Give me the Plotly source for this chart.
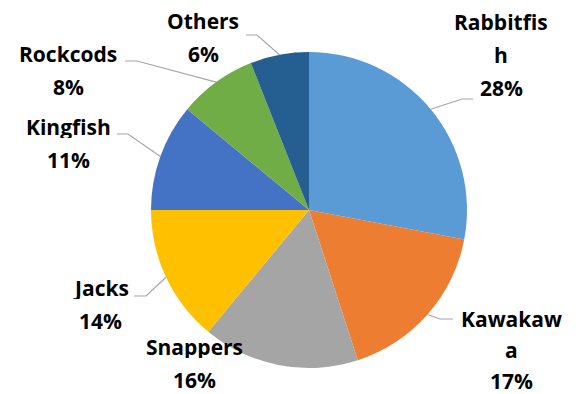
import math
import plotly.graph_objects as go

# Catch composition by species group
species = ["Rabbitfish", "Kawakawa", "Snappers", "Jacks", "Kingfish", "Rockcods", "Others"]
shares = [28, 17, 16, 14, 11, 8, 6]
label_lines = [["Rabbitfis", "h"], ["Kawakaw", "a"], ["Snappers"], ["Jacks"],
               ["Kingfish"], ["Rockcods"], ["Others"]]
colors = ["#5B9BD5", "#ED7D31", "#A5A5A5", "#FFC000", "#4472C4", "#70AD47", "#255E91"]

# Canvas and pie geometry (pixels)
W, H = 580, 394
CX, CY, R = 309, 210, 158

# Label placement: centre of first text line, line step, and leader elbow / end points
label_pos = {
    "Rabbitfish": dict(x=501, y=22, step=33, elbow=(462, 99), end=(473, 99)),
    "Kawakawa": dict(x=511, y=319, step=31, elbow=(440, 319), end=(453, 319)),
    "Snappers": dict(x=194, y=347, step=33, elbow=None, end=None),
    "Jacks": dict(x=101, y=288, step=33, elbow=(146, 296), end=(134, 296)),
    "Kingfish": dict(x=68, y=127, step=33, elbow=(128, 134), end=(117, 134)),
    "Rockcods": dict(x=68, y=54, step=33, elbow=(137, 61), end=(125, 61)),
    "Others": dict(x=203, y=21, step=33, elbow=(257, 35), end=(246, 35)),
}
FONT = dict(family="Open Sans", size=21, color="#000000")


def px(x):
    return x / W


def py(y):
    return 1 - y / H


fig = go.Figure(go.Pie(
    labels=species, values=shares, sort=False, direction="clockwise", rotation=0,
    marker=dict(colors=colors, line=dict(width=0)),
    textinfo="none", hoverinfo="label+percent", showlegend=False,
    domain=dict(x=[px(CX - R), px(CX + R)], y=[py(CY + R), py(CY - R)]),
))

annotations, shapes = [], []
total = sum(shares)
cum = 0
for name, val, lines in zip(species, shares, label_lines):
    mid = (cum + val / 2) / total * 2 * math.pi
    cum += val
    pos = label_pos[name]
    pct = f"{round(val / total * 100)}%"
    for i, txt in enumerate(lines + [pct]):
        annotations.append(dict(
            x=px(pos["x"]), y=py(pos["y"] + i * pos["step"]), xref="paper", yref="paper",
            text=f"<b>{txt}</b>", showarrow=False, xanchor="center", yanchor="middle",
            height=22, font=FONT))
    if pos["elbow"] is not None:
        ex, ey = CX + R * math.sin(mid), CY - R * math.cos(mid)
        (bx, by), (tx, ty) = pos["elbow"], pos["end"]
        path = f"M {px(ex)},{py(ey)} L {px(bx)},{py(by)} L {px(tx)},{py(ty)}"
        shapes.append(dict(type="path", path=path, xref="paper", yref="paper",
                           line=dict(color="#A6A6A6", width=1.2)))

fig.update_layout(
    width=W, height=H, margin=dict(l=0, r=0, t=0, b=0),
    paper_bgcolor="white", plot_bgcolor="white",
    annotations=annotations, shapes=shapes,
)

fig.write_html("out.html")
